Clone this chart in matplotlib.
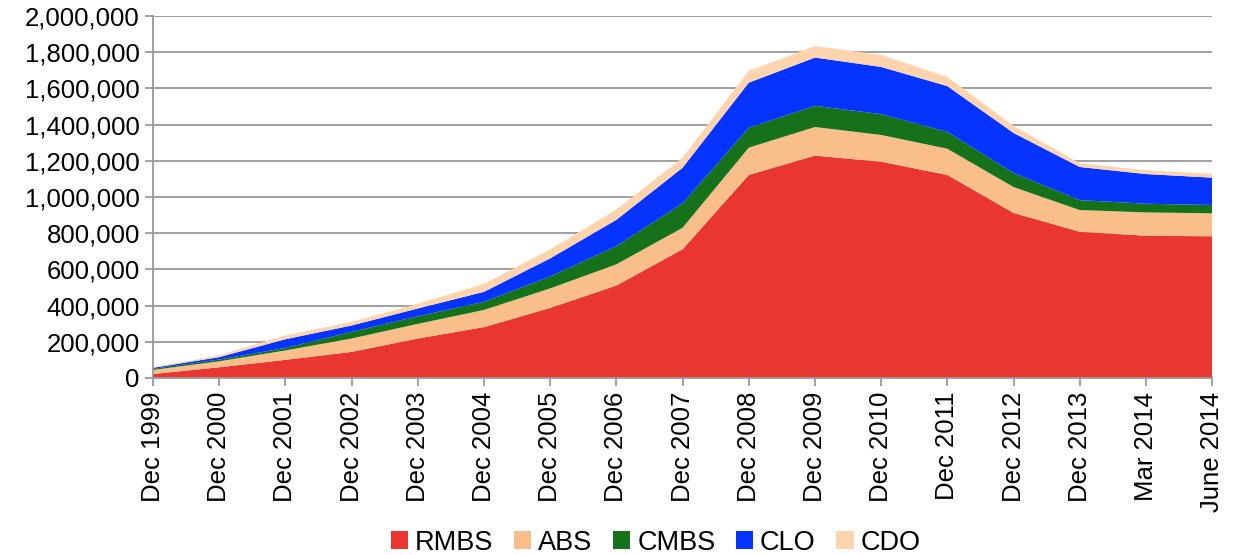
import numpy as np
import matplotlib.pyplot as plt
from matplotlib.patches import Patch
from matplotlib.ticker import FuncFormatter

plt.rcParams['font.family'] = ['Liberation Sans', 'DejaVu Sans']

periods = ["Dec 1999", "Dec 2000", "Dec 2001", "Dec 2002", "Dec 2003", "Dec 2004",
           "Dec 2005", "Dec 2006", "Dec 2007", "Dec 2008", "Dec 2009", "Dec 2010",
           "Dec 2011", "Dec 2012", "Dec 2013", "Mar 2014", "June 2014"]

# outstanding amounts
rmbs = [22000, 59000, 100000, 144000, 218000, 281000, 387000, 511000, 711000,
        1122000, 1229000, 1195000, 1122000, 912000, 808000, 786000, 783000]
abs_ = [22000, 33000, 52000, 74000, 81000, 95000, 108000, 117000, 119000,
        151000, 158000, 148000, 145000, 143000, 120000, 129000, 127000]
cmbs = [6000, 10000, 14000, 37000, 42000, 45000, 66000, 101000, 135000,
        110000, 117000, 115000, 93000, 78000, 55000, 48000, 46000]
clo = [6000, 13000, 48000, 35000, 43000, 55000, 100000, 145000, 197000,
       249000, 267000, 261000, 253000, 221000, 183000, 164000, 151000]
cdo = [4000, 11000, 21000, 20000, 26000, 44000, 50000, 56000, 56000,
       65000, 63000, 67000, 51000, 39000, 21000, 21000, 22000]

names = ["RMBS", "ABS", "CMBS", "CLO", "CDO"]
colors = ["#E93631", "#F9BE8A", "#15721B", "#0533FF", "#FDD4AE"]

fig = plt.figure(figsize=(12.37, 5.55), dpi=100)
ax = fig.add_axes([0.1237, 0.319, 0.8562, 0.652])

x = np.arange(len(periods))
ax.stackplot(x, rmbs, abs_, cmbs, clo, cdo, colors=colors, linewidth=0, zorder=3)

ax.set_xlim(0, len(periods) - 1)
ax.set_ylim(0, 2000000)
ax.set_yticks(np.arange(0, 2000001, 200000))
ax.yaxis.set_major_formatter(FuncFormatter(lambda v, p: f"{int(v):,}"))
ax.set_xticks(x)
ax.set_xticklabels(periods, rotation=90)

ax.grid(axis='y', color='#999999', linewidth=1.3, zorder=0)
for side in ['top', 'right']:
    ax.spines[side].set_visible(False)
for side in ['left', 'bottom']:
    ax.spines[side].set_color('#999999')
    ax.spines[side].set_linewidth(1.3)
    ax.spines[side].set_zorder(4)
ax.tick_params(axis='both', colors='#999999', length=6, width=1.3, labelsize=18.5,
               labelcolor='black')
ax.tick_params(axis='x', pad=4)

handles = [Patch(facecolor=c, label=n) for c, n in zip(colors, names)]
fig.legend(handles=handles, loc='lower center', bbox_to_anchor=(0.53, -0.045), ncol=5,
           frameon=False, fontsize=19.5, handlelength=0.65, handleheight=0.65,
           handletextpad=0.25, columnspacing=0.75)

fig.savefig("out.png", dpi=100)
